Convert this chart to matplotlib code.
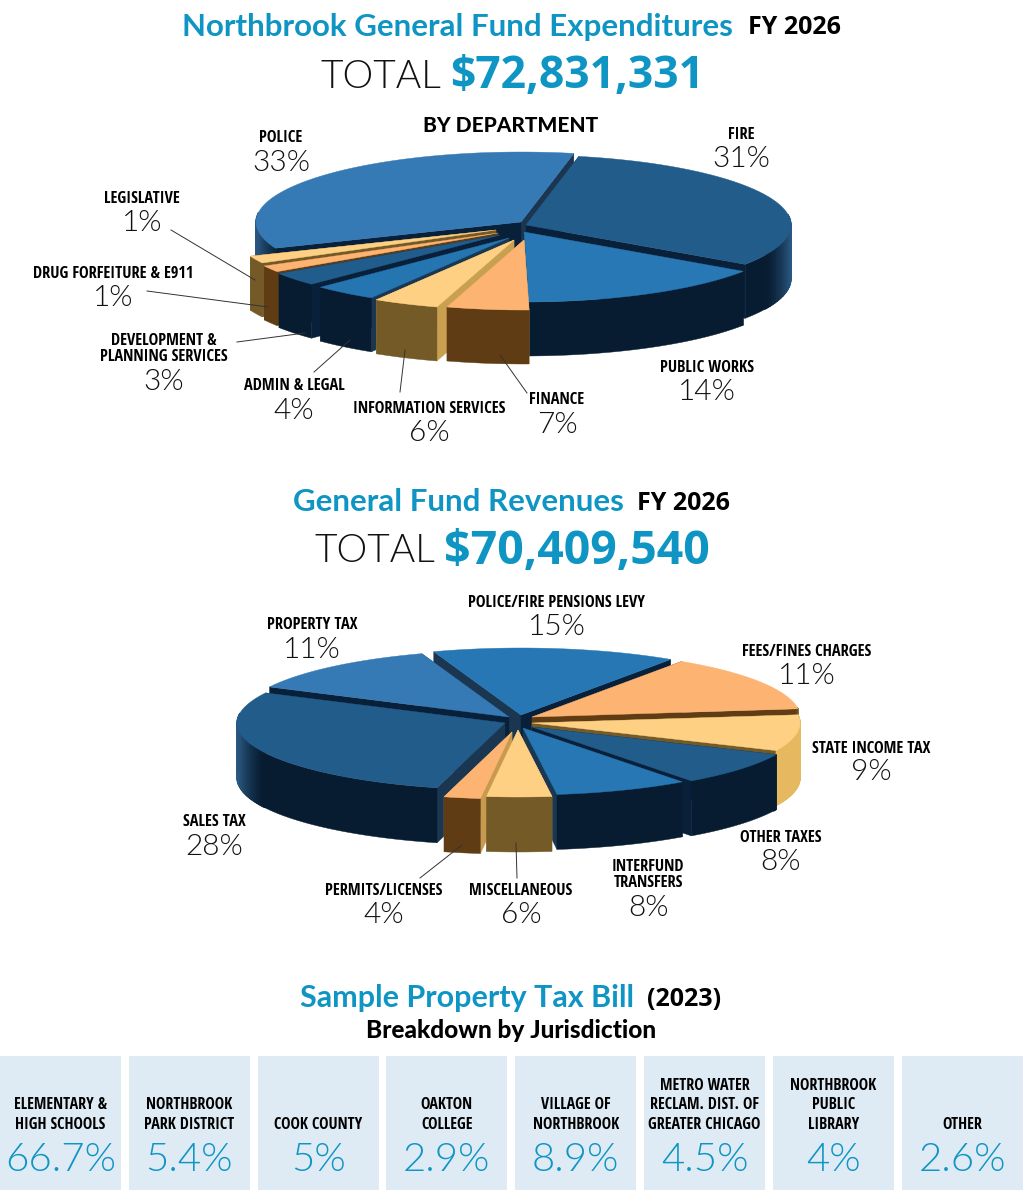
import numpy as np
import matplotlib
matplotlib.use('Agg')
import matplotlib.pyplot as plt
from matplotlib.colors import to_rgb
from matplotlib.patches import Polygon, Rectangle

exp_names = ['FIRE', 'PUBLIC WORKS', 'FINANCE', 'INFORMATION SERVICES', 'ADMIN & LEGAL',
             'DEVELOPMENT &\nPLANNING SERVICES', 'DRUG FORFEITURE & E911', 'LEGISLATIVE', 'POLICE']
exp_labels = ['31%', '14%', '7%', '6%', '4%', '3%', '1%', '1%', '33%']
exp_shares = [31.3, 15.2, 5.0, 4.0, 3.9, 3.1, 1.5, 1.7, 34.3]

rev_names = ['POLICE/FIRE PENSIONS LEVY', 'FEES/FINES CHARGES', 'STATE INCOME TAX', 'OTHER TAXES',
             'INTERFUND\nTRANSFERS', 'MISCELLANEOUS', 'PERMITS/LICENSES', 'SALES TAX', 'PROPERTY TAX']
rev_labels = ['15%', '11%', '9%', '8%', '8%', '6%', '4%', '28%', '11%']
rev_shares = [14.7, 13.6, 8.7, 8.1, 8.1, 3.9, 2.2, 28.3, 12.3]

tax_names = ['ELEMENTARY &\nHIGH SCHOOLS', 'NORTHBROOK\nPARK DISTRICT', 'COOK COUNTY', 'OAKTON\nCOLLEGE',
             'VILLAGE OF\nNORTHBROOK', 'METRO WATER\nRECLAM. DIST. OF\nGREATER CHICAGO',
             'NORTHBROOK\nPUBLIC\nLIBRARY', 'OTHER']
tax_labels = ['66.7%', '5.4%', '5%', '2.9%', '8.9%', '4.5%', '4%', '2.6%']

# styles
BLUE = '#0f95c3'
COND = ['Open Sans Condensed', 'PT Sans Narrow', 'DejaVu Sans']
# wall, wall at the turning edge, cut face seen from the front, cut face seen from the side,
# where the turn starts, its width
NAVY = ('#071c30', '#2c5a84', '#1a3650', '#08203a', 0.9, 0.1)
BROWN = ('#5f3c13', '#7a5520', '#c89a50', '#5f3c13', 0.9, 0.1)
OCHRE = ('#735a26', '#e6b960', '#c8a050', '#735a26', 0.75, 0.15)
OCHRE_DARK = ('#735a26', '#a88a40', '#c8a050', '#735a26', 0.93, 0.07)

exp_top = ['#225c8a', '#2878b5', '#fdb473', '#fdd084', '#2475b0', '#215d8c', '#fdb473', '#fdd084', '#357ab5']
exp_side = [NAVY, NAVY, BROWN, OCHRE_DARK, NAVY, NAVY, BROWN, OCHRE_DARK, NAVY]
exp_offset = [(3, 3), (1, 10), (1, 18), (-9, 18), (-14, 16), (-23, 13), (-25, 11), (-27, 8), (-2, 0)]

rev_top = ['#2677b3', '#fdb473', '#fdd084', '#225c8a', '#2677b3', '#fdd084', '#fdb473', '#225c8a', '#357ab5']
rev_side = [NAVY, BROWN, OCHRE, NAVY, NAVY, OCHRE_DARK, BROWN, NAVY, NAVY]
rev_offset = [(2, -7), (13, -5), (13, 1), (13, 5), (4, 6), (-1, 8), (-7, 10), (-14, 1), (-10, -5)]

fig = plt.figure(figsize=(10.24, 11.9), dpi=100)
ax = fig.add_axes([0, 0, 1, 1])
ax.set_xlim(0, 1024)
ax.set_ylim(1190, 0)
ax.axis('off')


def draw_pie(shares, tops, sides, offsets, start, cx, cy, rx, ry, depth):
    shares = np.array(shares, dtype=float)
    sweeps = shares / shares.sum() * 360
    starts = start + np.concatenate([[0], np.cumsum(sweeps)[:-1]])
    mids = np.radians(starts + sweeps / 2)
    # back slices first
    order = np.argsort(-np.cos(mids))
    for i in order:
        a = np.radians(np.linspace(starts[i], starts[i] + sweeps[i], 80))
        tx, ty = cx + offsets[i][0], cy + offsets[i][1]
        rim = np.column_stack([tx + rx * np.sin(a), ty - ry * np.cos(a)])
        tip = (tx, ty)
        front, light, face, flat, ramp, width = sides[i]

        # flat cut faces, the one further back goes first
        for k in sorted([0, -1], key=lambda q: rim[q][1]):
            p = rim[k]
            col = face if abs(np.cos(a[k])) > 0.85 else flat
            quad = [tip, p, (p[0], p[1] + depth), (tx, ty + depth)]
            ax.add_patch(Polygon(quad, closed=True, fc=col, ec=col, lw=0.3))

        # outer wall, only the part turned to the front
        seen = np.cos(a) < 0.15
        if seen.sum() > 1:
            upper = rim[seen]
            lower = upper[::-1] + [0, depth]
            ax.add_patch(Polygon(np.vstack([upper, lower]), closed=True, fc=front, ec=front, lw=0.3))
            # lighter where it turns away at the left and right
            for j in range(len(upper) - 1):
                m = abs(upper[j:j + 2, 0].mean() - tx) / rx
                f = min(1, max(0, (m - ramp) / width)) ** 1.5
                if f == 0:
                    continue
                col = np.array(to_rgb(front)) * (1 - f) + np.array(to_rgb(light)) * f
                p, q = upper[j], upper[j + 1]
                quad = [p, q, (q[0], q[1] + depth), (p[0], p[1] + depth)]
                ax.add_patch(Polygon(quad, closed=True, fc=col, ec=col, lw=0.8))

        ax.add_patch(Polygon(np.vstack([[tip], rim]), closed=True, fc=tops[i], ec=tops[i], lw=0.3))


def label(x, y, name, pct, pct_y):
    ax.text(x, y + 2, name, ha='center', va='center', fontsize=11.8, family=COND, fontweight='bold',
            color='black', linespacing=1.0)
    ax.text(x, pct_y + 2, pct, ha='center', va='center', fontsize=21.5, family='Lato', fontweight=300,
            color='#111111')


def leader(x0, y0, x1, y1):
    ax.plot([x0, x1], [y0, y1], color='#333333', lw=0.7, zorder=5)


def heading(y, title, size, x_title, year, x_year, total, x_total, x_money, money_size, y_total):
    ax.text(x_title, y, title, ha='left', va='center', fontsize=size, family='Lato', fontweight=700, color=BLUE)
    ax.text(x_year, y + 1, year, ha='left', va='center', fontsize=18, family='Open Sans', fontweight=700, color='black')
    ax.text(x_total, y_total, 'TOTAL', ha='left', va='center', fontsize=28, family='Lato', fontweight=300, color='#111111')
    ax.text(x_money, y_total, total, ha='left', va='center', fontsize=money_size, family='Open Sans', fontweight=700, color=BLUE)


# expenditures
heading(27, 'Northbrook General Fund Expenditures', 22.5, 182, 'FY 2026', 748, '$72,831,331', 320, 450, 32, 77)
ax.text(511, 126, 'BY DEPARTMENT', ha='center', va='center', fontsize=15, family='Lato', fontweight=900)
draw_pie(exp_shares, exp_top, exp_side, exp_offset, 11.5, 523, 222, 265, 70, 54)

exp_xy = [(741, 133, 157), (707, 366, 390), (557, 398, 423), (429, 407, 431), (294, 384, 409),
          (164, 347, 380), (113, 272, 296), (142, 197, 221), (281, 136, 161)]
for (x, y, py), n, p in zip(exp_xy, exp_names, exp_labels):
    label(x, y, n, p, py)
leader(171, 230, 255, 280)
leader(147, 291, 268, 307)
leader(237, 342, 305, 333)
leader(314, 372, 350, 340)
leader(400, 392, 405, 350)
leader(527, 393, 500, 355)

# revenues
heading(502, 'General Fund Revenues', 22.5, 293, 'FY 2026', 637, '$70,409,540', 314, 444, 33.5, 551)
draw_pie(rev_shares, rev_top, rev_side, rev_offset, -19, 519, 722, 268, 67, 55)

rev_xy = [(557, 601, 625), (807, 650, 674), (871, 747, 770), (781, 836, 860), (648, 873, 906),
          (521, 889, 913), (384, 889, 913), (214, 820, 845), (312, 623, 648)]
for (x, y, py), n, p in zip(rev_xy, rev_names, rev_labels):
    label(x, y, n, p, py)
leader(420, 878, 462, 845)
leader(517, 878, 516, 843)

# tax bill
ax.text(300, 998, 'Sample Property Tax Bill', ha='left', va='center', fontsize=22, family='Lato', fontweight=700, color=BLUE)
ax.text(647, 999, '(2023)', ha='left', va='center', fontsize=18, family='Open Sans', fontweight=700)
ax.text(511, 1031, 'Breakdown by Jurisdiction', ha='center', va='center', fontsize=17.6, family='Lato', fontweight=900)

for i, (n, p) in enumerate(zip(tax_names, tax_labels)):
    x0 = i * 128.8
    ax.add_patch(Rectangle((x0, 1056), 121, 134, fc='#dfebf4', ec='none'))
    ax.text(x0 + 60.5, 1133, n, ha='center', va='bottom', fontsize=11.5, family=COND, fontweight='bold',
            linespacing=1.3)
    ax.text(x0 + 60.5, 1160, p, ha='center', va='center', fontsize=29, family='Lato', fontweight=300, color=BLUE)

fig.savefig('out.png', dpi=100)
